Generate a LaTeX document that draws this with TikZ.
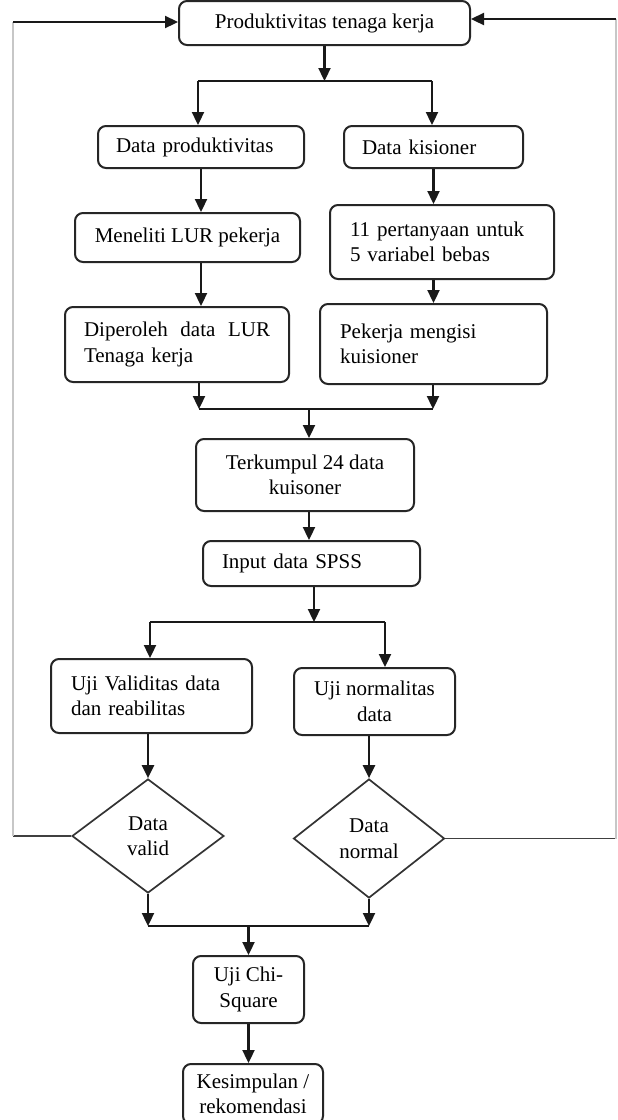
\documentclass[tikz,border=0pt]{standalone}
\usepackage{fontspec}
\setmainfont{Liberation Serif}
\usetikzlibrary{arrows.meta,shapes.geometric}
\newcommand{\fsz}{\fontsize{21}{25.5}\selectfont}
\tikzset{
  box/.style={draw=black!85, line width=2pt, rounded corners=8pt, inner sep=0pt, font=\fsz},
  dia/.style={draw=black!80, line width=1.7pt, diamond, inner sep=0pt, align=center, font=\fsz},
  arr/.style={line width=2.3pt, draw=black!90, -{Triangle[length=13pt,width=12pt]}},
  ln/.style={line width=2.3pt, draw=black!90},
  fbh/.style={line width=1.9pt, draw=black!75},
  fbv/.style={line width=1.6pt, draw=black!22},
}
\begin{document}
\begin{tikzpicture}[x=1pt,y=-1pt]
\useasboundingbox (0,0) rectangle (618,1120);
\fill[white] (0,0) rectangle (618,1120);
\clip (0,0) rectangle (618,1120);

% nodes
\node[box, minimum width=291pt, minimum height=44pt, align=center] (top) at (324.5,23) {Produktivitas tenaga kerja};
\node[box, minimum width=206pt, minimum height=42pt, text width=170pt, align=left] (dprod) at (201,147) {Data produktivitas};
\node[box, minimum width=179pt, minimum height=42pt, text width=143pt, align=left] (dkis) at (433.5,147) {Data kisioner};
\node[box, minimum width=225pt, minimum height=49pt, align=center] (meneliti) at (187.5,237.5) {Meneliti LUR pekerja};
\node[box, minimum width=224pt, minimum height=74pt, text width=184pt, align=left] (sebelas) at (442,242) {11 pertanyaan untuk\\5 variabel bebas};
\node[box, minimum width=224pt, minimum height=75pt, text width=186pt, align=left] (diperoleh) at (177,344.5) {Diperoleh\hfill data\hfill LUR\\Tenaga kerja};
\node[box, minimum width=227pt, minimum height=80pt, text width=187pt, align=left] (pekerja) at (433.5,344) {Pekerja mengisi\\kuisioner};
\node[box, minimum width=218pt, minimum height=72pt, align=center] (terkumpul) at (305,475) {Terkumpul 24 data\\kuisoner};
\node[box, minimum width=217pt, minimum height=45pt, text width=179pt, align=left] (input) at (311.5,563.5) {Input data SPSS};
\node[box, minimum width=201pt, minimum height=74pt, text width=161pt, align=left] (ujival) at (151.5,696) {Uji Validitas data\\dan reabilitas};
\node[box, minimum width=161pt, minimum height=67pt, align=center] (ujinorm) at (374.5,701.5) {Uji normalitas\\data};
\node[dia, minimum width=152pt, minimum height=114pt] (dvalid) at (148,836) {Data\\valid};
\node[dia, minimum width=151pt, minimum height=119pt] (dnormal) at (369,838.5) {Data\\normal};
\node[box, minimum width=111pt, minimum height=67pt, align=center] (ujichi) at (248.5,989.5) {Uji Chi-\\Square};
\node[box, minimum width=140pt, minimum height=60pt, align=center] (kesimpulan) at (253,1094) {Kesimpulan /\\rekomendasi};

% junction coordinates
\coordinate (a1) at (198,81);
\coordinate (a2) at (432,81);
\coordinate (b1) at (199,409);
\coordinate (b2) at (433,409);
\coordinate (b0) at (309,409);
\coordinate (c1) at (150,622);
\coordinate (c2) at (385,622);
\coordinate (c0) at (314,622);
\coordinate (d1) at (147,926);
\coordinate (d2) at (371,926);
\coordinate (fl) at (13,22);
\coordinate (fr) at (616,19);

% connectors
\draw[arr] (top.south) -- (top.south |- a1);
\draw[ln] (a1) -- (a2);
\draw[arr] (a1) -- (a1 |- dprod.north);
\draw[arr] (a2) -- (a2 |- dkis.north);
\draw[arr] (dprod.south) -- (dprod.south |- meneliti.north);
\draw[arr] (dkis.south) -- (dkis.south |- sebelas.north);
\draw[arr] (meneliti.south -| dprod.south) -- (dprod.south |- diperoleh.north);
\draw[arr] (sebelas.south -| dkis.south) -- (dkis.south |- pekerja.north);
\draw[arr] (diperoleh.south -| b1) -- (b1);
\draw[arr] (pekerja.south -| b2) -- (b2);
\draw[ln] (b1) -- (b2);
\draw[arr] (b0) -- (b0 |- terkumpul.north);
\draw[arr] (b0 |- terkumpul.south) -- (b0 |- input.north);
\draw[arr] (c0 |- input.south) -- (c0);
\draw[ln] (c1) -- (c2);
\draw[arr] (c1) -- (c1 |- ujival.north);
\draw[arr] (c2) -- (c2 |- ujinorm.north);
\draw[arr] (ujival.south -| dvalid.north) -- (dvalid.north);
\draw[arr] (ujinorm.south -| dnormal.north) -- (dnormal.north);
\draw[arr] (dvalid.south) -- (dvalid.south |- d1);
\draw[arr] (dnormal.south) -- (dnormal.south |- d2);
\draw[ln] (dvalid.south |- d1) -- (dnormal.south |- d2);
\draw[arr] (ujichi.north |- d1) -- (ujichi.north);
\draw[arr] (ujichi.south) -- (ujichi.south |- kesimpulan.north);

% feedback loops
\draw[fbh] (dvalid.west) -- (dvalid.west -| fl);
\draw[fbv] (dvalid.west -| fl) -- (fl);
\draw[arr] (fl) -- (top.west |- fl);
\draw[fbh] (dnormal.east) -- (dnormal.east -| fr);
\draw[fbv] (dnormal.east -| fr) -- (fr);
\draw[arr] (fr) -- (top.east |- fr);
\end{tikzpicture}
\end{document}
